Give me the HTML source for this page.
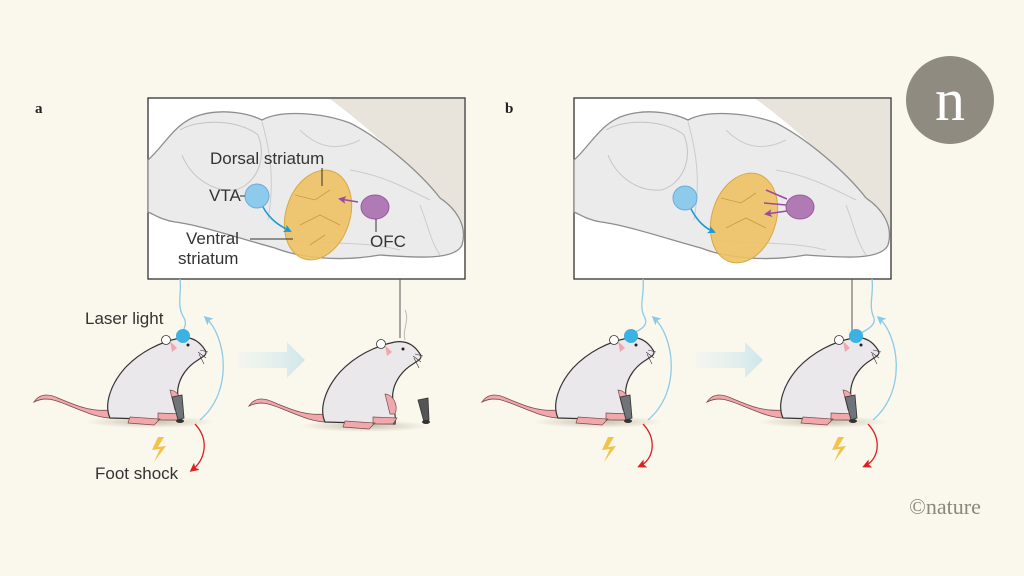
<!DOCTYPE html>
<html><head><meta charset="utf-8"><style>
html,body{margin:0;padding:0;background:#faf7ec;}
svg{display:block;font-family:"Liberation Sans",sans-serif;}
</style></head><body>
<svg width="1024" height="576" viewBox="0 0 1024 576" xmlns="http://www.w3.org/2000/svg">
<defs>
<marker id="ab" markerWidth="8" markerHeight="8" refX="6" refY="4" orient="auto" markerUnits="userSpaceOnUse"><path d="M0,0 L8,4 L0,8 L2,4 Z" fill="#1a9bd7"/></marker>
<marker id="ap" markerWidth="8" markerHeight="8" refX="6" refY="4" orient="auto" markerUnits="userSpaceOnUse"><path d="M0,0 L8,4 L0,8 L2,4 Z" fill="#9b4a9e"/></marker>
<marker id="alb" markerWidth="9" markerHeight="9" refX="6" refY="4.5" orient="auto" markerUnits="userSpaceOnUse"><path d="M0,0 L9,4.5 L0,9 L2,4.5 Z" fill="#8ccbe8"/></marker>
<marker id="ar" markerWidth="9" markerHeight="9" refX="6" refY="4.5" orient="auto" markerUnits="userSpaceOnUse"><path d="M0,0 L9,4.5 L0,9 L2,4.5 Z" fill="#e02020"/></marker>
<linearGradient id="bg" x1="0" x2="1"><stop offset="0" stop-color="#e6f1f2" stop-opacity="0.3"/><stop offset="1" stop-color="#cfe6ea"/></linearGradient>
<radialGradient id="sh"><stop offset="0" stop-color="#a89f88" stop-opacity="0.6"/><stop offset="1" stop-color="#a89f88" stop-opacity="0"/></radialGradient>
<g id="brain">
<path d="M148,160 C165,145 175,122 200,115 C225,108 250,114 262,120 C280,110 320,112 350,123 C380,138 420,172 440,198 C455,208 468,225 462,245 C455,260 420,258 380,255 C340,262 300,258 275,248 C245,240 200,225 175,222 C162,220 155,215 148,212 Z" fill="#ebebeb" stroke="#8d8d8d" stroke-width="1.3"/>
<path d="M180,130 C200,118 240,120 258,135 C268,160 255,185 235,190 C210,192 190,175 182,155" fill="none" stroke="#c4c4c4" stroke-width="1"/>
<path d="M262,122 C270,150 275,180 268,220 M300,130 C320,150 340,150 360,140 M350,170 C380,175 400,185 430,200 M290,240 C320,245 360,240 400,250 M420,205 C428,225 430,240 440,255" fill="none" stroke="#cccccc" stroke-width="1"/>
</g>
<g id="rat">
<ellipse cx="150" cy="422" rx="65" ry="6" fill="url(#sh)"/>
<path d="M110,410 C90,412 75,405 58,398 C45,392 38,396 34,402 C46,396 55,400 70,406 C85,412 98,418 112,418 Z" fill="#f0a8ac" stroke="#7a4a4a" stroke-width="0.8"/>
<path d="M205,350 C200,342 192,336 180,338 C160,342 140,352 125,368 C110,385 104,405 110,418 L180,420 C182,410 176,398 178,388 C180,376 188,366 198,360 C204,356 208,354 205,350 Z" fill="#ebe8eb" stroke="#333" stroke-width="1.2"/>
<path d="M130,417 L160,419 L154,425 L128,423 Z M158,413 L182,414 L178,420 L158,420 Z" fill="#f0a8ac" stroke="#7a4a4a" stroke-width="0.7"/>
<path d="M170,390 C177,390 184,400 180,410 L175,410 Z" fill="#f0a8ac" stroke="#7a4a4a" stroke-width="0.7"/>
<circle cx="166" cy="340" r="4.5" fill="#fff" stroke="#333" stroke-width="0.8"/>
<path d="M170,341 L177,348 L172,352 Z" fill="#f0a8ac"/>
<circle cx="188" cy="345" r="1.5" fill="#222"/>
<path d="M198,352 L206,358 M199,354 L204,364 M200,350 L208,352" stroke="#333" stroke-width="0.6"/>
</g>
<g id="lever"><path d="M172,397 L182,395 L184,418 L178,420 Z" fill="#6f747a" stroke="#333" stroke-width="0.8"/><ellipse cx="180" cy="421" rx="4" ry="2" fill="#333"/></g>
<path id="bolt" d="M158,437 L152,450 L160,449 L154,462 L166,446 L158,447 L164,437 Z" fill="#f2c24a"/>
</defs>

<circle cx="950" cy="100" r="44" fill="#908b80"/>
<text x="950" y="120" text-anchor="middle" font-family="Liberation Serif,serif" font-size="60" fill="#fff">n</text>
<text x="945" y="514" text-anchor="middle" font-family="Liberation Serif,serif" font-size="22" fill="#8b877f">©nature</text>

<text x="35" y="113" font-family="Liberation Serif,serif" font-weight="bold" font-size="15" fill="#222">a</text>
<text x="505" y="113" font-family="Liberation Serif,serif" font-weight="bold" font-size="15" fill="#222">b</text>

<rect x="148" y="98" width="317" height="181" fill="#fff" stroke="#333" stroke-width="1.3"/>
<path d="M330,99 L464,99 L464,235 C450,220 420,180 380,140 C360,122 345,110 330,99 Z" fill="#e8e4db"/>
<use href="#brain"/>
<ellipse cx="318" cy="215" rx="32" ry="46" transform="rotate(18 318 215)" fill="#eec264" fill-opacity="0.9" stroke="#d7a845"/>
<path d="M295,195 L315,200 L330,190 M300,225 L320,215 L340,225 M310,245 L325,235" fill="none" stroke="#c99b40" stroke-width="0.8"/>
<circle cx="257" cy="196" r="12" fill="#8dcaec" stroke="#6aaedb"/>
<ellipse cx="375" cy="207" rx="14" ry="12" fill="#b07ab5" stroke="#9a5a9f"/>
<path d="M263,207 C270,220 280,226 290,231" fill="none" stroke="#1a9bd7" stroke-width="1.6" marker-end="url(#ab)"/>
<path d="M358,202 L340,199" stroke="#9b4a9e" stroke-width="1.6" marker-end="url(#ap)"/>
<text x="210" y="164" font-size="17" fill="#333">Dorsal striatum</text>
<line x1="322" y1="168" x2="322" y2="186" stroke="#333"/>
<text x="209" y="201" font-size="17" fill="#333">VTA</text>
<line x1="240" y1="196" x2="245" y2="196" stroke="#333"/>
<text x="186" y="244" font-size="17" fill="#333">Ventral</text>
<text x="178" y="264" font-size="17" fill="#333">striatum</text>
<line x1="250" y1="239" x2="293" y2="239" stroke="#333"/>
<text x="370" y="247" font-size="17" fill="#333">OFC</text>
<line x1="376" y1="219" x2="376" y2="232" stroke="#333"/>

<rect x="574" y="98" width="317" height="181" fill="#fff" stroke="#333" stroke-width="1.3"/>
<path d="M756,99 L890,99 L890,235 C876,220 846,180 806,140 C786,122 771,110 756,99 Z" fill="#e8e4db"/>
<use href="#brain" transform="translate(426,0)"/>
<ellipse cx="744" cy="218" rx="32" ry="46" transform="rotate(18 744 218)" fill="#eec264" fill-opacity="0.9" stroke="#d7a845"/>
<path d="M721,198 L741,203 L756,193 M726,228 L746,218 L766,228" fill="none" stroke="#c99b40" stroke-width="0.8"/>
<circle cx="685" cy="198" r="12" fill="#8dcaec" stroke="#6aaedb"/>
<ellipse cx="800" cy="207" rx="14" ry="12" fill="#b07ab5" stroke="#9a5a9f"/>
<path d="M691,209 C698,222 705,228 714,232" fill="none" stroke="#1a9bd7" stroke-width="1.6" marker-end="url(#ab)"/>
<path d="M787,199 L766,190 M786,205 L764,203 M787,211 L766,214" stroke="#9b4a9e" stroke-width="1.6" marker-end="url(#ap)"/>

<path d="M180,279 C182,295 176,305 184,318 C188,325 182,330 183,334" fill="none" stroke="#8ccbe8" stroke-width="1.3"/>
<use href="#rat"/><use href="#lever"/>
<circle cx="183" cy="336" r="7" fill="#3cb2e2"/>
<path d="M200,420 C235,390 225,335 206,318" fill="none" stroke="#8ccbe8" stroke-width="1.3" marker-end="url(#alb)"/>
<path d="M195,424 C210,440 205,460 192,470" fill="none" stroke="#e02020" stroke-width="1.3" marker-end="url(#ar)"/>
<use href="#bolt"/>
<text x="85" y="324" font-size="17" fill="#333">Laser light</text>
<text x="95" y="479" font-size="17" fill="#333">Foot shock</text>

<path d="M238,352 L287,352 L287,342 L305,360 L287,378 L287,368 L238,368 Z" fill="url(#bg)"/>
<line x1="400" y1="279" x2="400" y2="338" stroke="#555" stroke-width="1"/>
<path d="M405,310 C410,320 402,330 405,340" fill="none" stroke="#bbb" stroke-width="1"/>
<g transform="translate(215,4)"><use href="#rat"/></g>
<path d="M418,400 L428,398 L429,420 L424,422 Z" fill="#555" stroke="#333" stroke-width="0.8"/><ellipse cx="426" cy="422" rx="4" ry="2" fill="#333"/>

<path d="M643,279 C645,295 638,305 645,318 C648,325 642,330 630,334" fill="none" stroke="#8ccbe8" stroke-width="1.3"/>
<g transform="translate(448,0)"><use href="#rat"/><use href="#lever"/></g>
<circle cx="631" cy="336" r="7" fill="#3cb2e2"/>
<path d="M648,420 C683,390 673,335 654,318" fill="none" stroke="#8ccbe8" stroke-width="1.3" marker-end="url(#alb)"/>
<path d="M643,424 C658,440 653,460 640,466" fill="none" stroke="#e02020" stroke-width="1.3" marker-end="url(#ar)"/>
<use href="#bolt" transform="translate(450,0)"/>

<path d="M696,352 L745,352 L745,342 L763,360 L745,378 L745,368 L696,368 Z" fill="url(#bg)"/>
<line x1="852" y1="279" x2="852" y2="336" stroke="#555" stroke-width="1"/>
<path d="M872,279 C874,295 868,305 874,318 C876,325 868,330 858,334" fill="none" stroke="#8ccbe8" stroke-width="1.3"/>
<g transform="translate(673,0)"><use href="#rat"/><use href="#lever"/></g>
<circle cx="856" cy="336" r="7" fill="#3cb2e2"/>
<path d="M873,420 C908,390 898,335 879,318" fill="none" stroke="#8ccbe8" stroke-width="1.3" marker-end="url(#alb)"/>
<path d="M868,424 C883,440 878,460 865,466" fill="none" stroke="#e02020" stroke-width="1.3" marker-end="url(#ar)"/>
<use href="#bolt" transform="translate(680,0)"/>
</svg>
</body></html>
